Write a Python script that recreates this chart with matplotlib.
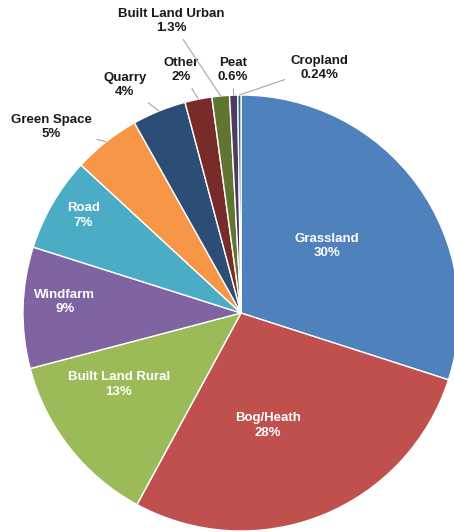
import numpy as np
import matplotlib
matplotlib.use("Agg")
import matplotlib.pyplot as plt

labels = ["Grassland", "Bog/Heath", "Built Land Rural", "Windfarm", "Road",
          "Green Space", "Quarry", "Other", "Built Land Urban", "Peat", "Cropland"]
pct_text = ["30%", "28%", "13%", "9%", "7%", "5%", "4%", "2%", "1.3%", "0.6%", "0.24%"]
values = [30, 28, 13, 9, 7, 5, 4, 2, 1.3, 0.6, 0.24]
colors = ["#4F81BD", "#C0504D", "#9BBB59", "#8064A2", "#4BACC6", "#F79646",
          "#2C4D75", "#772C2A", "#5F7530", "#4D3B62", "#276A7C"]

# label placement: (radius, angle in degrees) for each slice, inside = white text
label_pos = [(0.50, 38), (0.53, -76.4), (0.65, -149.7), (0.81, 176.4), (0.85, 148.2),
             (1.22, 135.6), (1.174, 117.0), (1.148, 103.9), (1.377, 103.5),
             (1.115, 91.9), (1.18, 72.3)]

W, H = 454, 532
R = 218.0
cx, cy = 241, 313

plt.rcParams['font.family'] = ['Liberation Sans', 'DejaVu Sans']
fig = plt.figure(figsize=(W / 100, H / 100), dpi=100)
ax = fig.add_axes([0, 0, 1, 1])

wedges, _ = ax.pie(values, colors=colors, startangle=90, counterclock=False,
                   radius=1.0, wedgeprops=dict(edgecolor="white", linewidth=1.0))

for i, w in enumerate(wedges):
    r, a = label_pos[i]
    tx, ty = r * np.cos(np.radians(a)), r * np.sin(np.radians(a))
    txt = labels[i] + "\n" + pct_text[i]
    if r < 1:
        ax.text(tx, ty, txt, ha="center", va="center", color="white",
                fontsize=9.5, fontweight="bold", linespacing=1.3)
    else:
        mid = np.radians((w.theta1 + w.theta2) / 2)
        px, py = np.cos(mid), np.sin(mid)
        ax.annotate(txt, xy=(px, py), xytext=(tx, ty), ha="center", va="center",
                    color="#1a1a1a", fontsize=9.5, fontweight="bold",
                    linespacing=1.3,
                    arrowprops=dict(arrowstyle="-", color="#a6a6a6", lw=0.8,
                                    shrinkA=2, shrinkB=0))

ax.set_xlim(-cx / R, (W - cx) / R)
ax.set_ylim(-(H - cy) / R, cy / R)
ax.set_aspect("auto")
ax.axis("off")

fig.savefig("out.png", dpi=100)
